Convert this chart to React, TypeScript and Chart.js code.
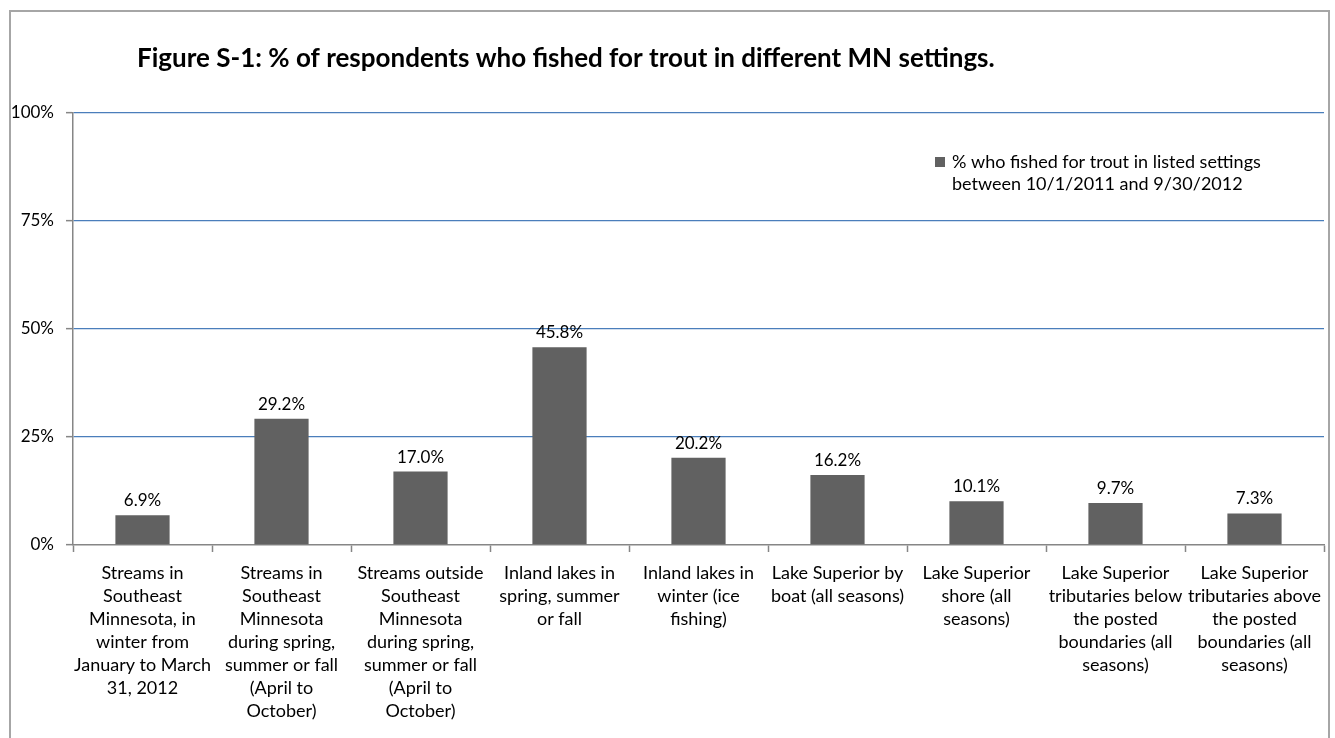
import React, { useEffect, useRef } from "react";
import { Chart, registerables } from "chart.js";

Chart.register(...registerables);

// Category labels, one array of text lines per bar
const categories: string[][] = [
  ["Streams in", "Southeast", "Minnesota, in", "winter from", "January to March", "31, 2012"],
  ["Streams in", "Southeast", "Minnesota", "during spring,", "summer or fall", "(April to", "October)"],
  ["Streams outside", "Southeast", "Minnesota", "during spring,", "summer or fall", "(April to", "October)"],
  ["Inland lakes in", "spring, summer", "or fall"],
  ["Inland lakes in", "winter (ice", "fishing)"],
  ["Lake Superior by", "boat (all seasons)"],
  ["Lake Superior", "shore (all", "seasons)"],
  ["Lake Superior", "tributaries below", "the posted", "boundaries (all", "seasons)"],
  ["Lake Superior", "tributaries above", "the posted", "boundaries (all", "seasons)"],
];

// Share of respondents (%) for each setting
const percentValues: number[] = [6.9, 29.2, 17.0, 45.8, 20.2, 16.2, 10.1, 9.7, 7.3];

// Value axis
const yMin = 0;
const yMax = 100;
const yStep = 25;

const seriesLabelLines: string[] = [
  "% who fished for trout in listed settings",
  "between 10/1/2011 and 9/30/2012",
];

const titleText = "Figure S-1: % of respondents who fished for trout in different MN settings.";

const FONT = "Lato, 'Open Sans', sans-serif";
const BAR_COLOR = "#616161";
const GRID_BLUE = "#4a7ebb";
const AXIS_GRAY = "#868686";

const decorPlugin = {
  id: "decor",
  beforeDraw(chart: any) {
    const { ctx, width, height } = chart;
    ctx.save();
    ctx.fillStyle = "#ffffff";
    ctx.fillRect(0, 0, width, height);
    ctx.restore();
  },
  afterDraw(chart: any) {
    const { ctx } = chart;
    ctx.save();

    // outer frame
    ctx.strokeStyle = "#a6a6a6";
    ctx.lineWidth = 2;
    ctx.strokeRect(10, 11, 1319, 780);

    // title
    ctx.fillStyle = "#000000";
    ctx.font = `bold 26px ${FONT}`;
    ctx.textAlign = "left";
    ctx.textBaseline = "middle";
    ctx.fillText(titleText, 137, 59);

    // legend
    ctx.fillStyle = BAR_COLOR;
    ctx.fillRect(935, 157, 10, 10);
    ctx.fillStyle = "#000000";
    ctx.font = `18px ${FONT}`;
    seriesLabelLines.forEach((line, i) => {
      ctx.fillText(line, 952, 162 + i * 22);
    });

    // value labels above bars
    const meta = chart.getDatasetMeta(0);
    ctx.textAlign = "center";
    ctx.textBaseline = "bottom";
    ctx.font = `17px ${FONT}`;
    meta.data.forEach((bar: any, i: number) => {
      ctx.fillText(percentValues[i].toFixed(1) + "%", bar.x, bar.y - 6);
    });

    ctx.restore();
  },
};

export default function App() {
  const canvasRef = useRef<HTMLCanvasElement | null>(null);

  useEffect(() => {
    document.body.style.margin = "0";
    document.body.style.overflow = "hidden";
    const canvas = canvasRef.current;
    if (!canvas) return;

    const chart = new Chart(canvas, {
      type: "bar",
      data: {
        labels: categories,
        datasets: [
          {
            label: seriesLabelLines.join(" "),
            data: percentValues,
            backgroundColor: BAR_COLOR,
            borderWidth: 0,
            categoryPercentage: 1,
            barPercentage: 0.39,
          },
        ],
      },
      options: {
        animation: false,
        responsive: false,
        devicePixelRatio: 1,
        layout: { padding: { top: 113, left: 0, right: 11, bottom: 0 } },
        plugins: {
          legend: { display: false },
          title: { display: false },
          tooltip: { enabled: false },
        },
        scales: {
          x: {
            afterFit(scale: any) {
              scale.height = 193;
            },
            grid: {
              display: true,
              drawOnChartArea: false,
              drawTicks: true,
              tickLength: 7,
              tickColor: AXIS_GRAY,
              tickWidth: 1.5,
              offset: true,
            },
            border: { display: true, color: AXIS_GRAY, width: 1.5 },
            ticks: {
              autoSkip: false,
              maxRotation: 0,
              minRotation: 0,
              padding: 10,
              color: "#000000",
              font: { family: FONT, size: 18, lineHeight: 23 / 18 },
            },
          },
          y: {
            min: yMin,
            max: yMax,
            afterFit(scale: any) {
              scale.width = 73;
            },
            grid: {
              color: (c: any) => (c.tick && c.tick.value === 0 ? "rgba(0,0,0,0)" : GRID_BLUE),
              lineWidth: 1.3,
              drawTicks: true,
              tickLength: 7,
              tickColor: AXIS_GRAY,
              tickWidth: 1.5,
            },
            border: { display: true, color: AXIS_GRAY, width: 1.5 },
            ticks: {
              stepSize: yStep,
              padding: 12,
              color: "#000000",
              font: { family: FONT, size: 17 },
              callback: (v: any) => v + "%",
            },
          },
        },
      },
      plugins: [decorPlugin],
    });

    return () => chart.destroy();
  }, []);

  return (
    <canvas
      ref={canvasRef}
      width={1335}
      height={738}
      style={{ display: "block", width: 1335, height: 738 }}
    />
  );
}
